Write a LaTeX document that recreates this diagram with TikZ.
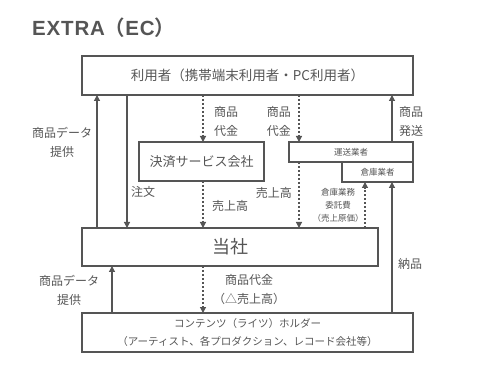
\documentclass[tikz,border=0pt]{standalone}
\usepackage{fontspec}
\setmainfont{Noto Sans CJK JP}
\newfontfamily\jpbold{Noto Sans CJK JP Bold}
\newfontfamily\titlefont[LetterSpace=4.0]{Liberation Sans}
\usetikzlibrary{arrows.meta}
\definecolor{ink}{HTML}{555555}
\begin{document}
\begin{tikzpicture}[x=1pt,y=-1pt,
  box/.style={draw=ink,line width=1.2pt,inner sep=0pt,outer sep=0pt,text=ink},
  lbl/.style={text=ink,font=\fontsize{12}{19}\selectfont,inner sep=0pt,align=center},
  small/.style={text=ink,font=\fontsize{8.5}{13}\selectfont,inner sep=0pt,align=center},
  arr/.style={draw=ink,line width=1.2pt,-{Triangle[length=6pt,width=6pt]}},
  darr/.style={arr,dash pattern=on 2pt off 2pt}]
\useasboundingbox (0,0) rectangle (495,371);
\node[text=ink,anchor=base west,inner sep=0pt,font=\fontsize{20.5}{24}\selectfont] (title) at (32,36) {{\titlefont\bfseries EXTRA}{\jpbold （}{\titlefont\bfseries EC}{\jpbold ）}};
% boxes
\node[box,minimum width=331pt,minimum height=39pt,font=\fontsize{13.5}{16}\selectfont] (top) at (247.5,75.5) {利用者（携帯端末利用者・PC利用者）};
\node[box,minimum width=125pt,minimum height=39pt,font=\fontsize{13}{16}\selectfont] (kessai) at (201.5,161.5) {決済サービス会社};
\node[box,minimum width=124pt,minimum height=20pt,font=\fontsize{8.5}{10}\selectfont] (unso) at (351,152) {運送業者};
\node[box,minimum width=71pt,minimum height=20pt,font=\fontsize{8.5}{10}\selectfont] (souko) at (377.5,172) {倉庫業者};
\node[box,minimum width=296pt,minimum height=38pt,font=\fontsize{18}{20}\selectfont] (tosha) at (230,247) {当社};
\node[box,minimum width=331pt,minimum height=39pt,align=center,font=\fontsize{10.5}{18}\selectfont] (content) at (247.5,332.5) {コンテンツ（ライツ）ホルダー\\（アーティスト、各プロダクション、レコード会社等）};
% x positions
\coordinate (xa) at (97,0);
\coordinate (xb) at (127,0);
\coordinate (xc) at (203,0);
\coordinate (xd) at (299,0);
\coordinate (xe) at (365,0);
\coordinate (xf) at (392,0);
\coordinate (xg) at (112,0);
% connectors upper
\draw[arr] (tosha.north -| xa) -- (top.south -| xa);
\draw[arr] (top.south -| xb) -- (tosha.north -| xb);
\draw[darr] (top.south -| xc) -- (kessai.north -| xc);
\draw[darr] (kessai.south -| xc) -- (tosha.north -| xc);
\draw[darr] (top.south -| xd) -- (unso.north -| xd);
\draw[darr] (unso.south -| xd) -- (tosha.north -| xd);
\draw[arr] (unso.north -| xf) -- (top.south -| xf);
\draw[darr] (tosha.north -| xe) -- (souko.south -| xe);
\draw[arr] (content.north -| xf) -- (souko.south -| xf);
% connectors lower
\draw[arr] (content.north -| xg) -- (tosha.south -| xg);
\draw[darr] (tosha.south -| xc) -- (content.north -| xc);
% labels
\node[lbl] (l1) at (62,142) {商品データ\\提供};
\node[lbl,anchor=west] (l2) at (131,192) {注文};
\node[lbl,anchor=west] (l3) at (214,121) {商品\\代金};
\node[lbl,anchor=west] (l4) at (212,206) {売上高};
\node[lbl,anchor=east] (l5) at (291,121) {商品\\代金};
\node[lbl,anchor=west] (l6) at (399,121) {商品\\発送};
\node[lbl,anchor=east] (l7) at (292,193) {売上高};
\node[small] (l8) at (338,205.5) {倉庫業務\\委託費\\（売上原価）};
\node[lbl,anchor=west] (l9) at (398,264) {納品};
\node[lbl] (l10) at (69,290) {商品データ\\提供};
\node[lbl,anchor=west] (l11) at (213,290) {商品代金\\（△売上高）};
\end{tikzpicture}
\end{document}
